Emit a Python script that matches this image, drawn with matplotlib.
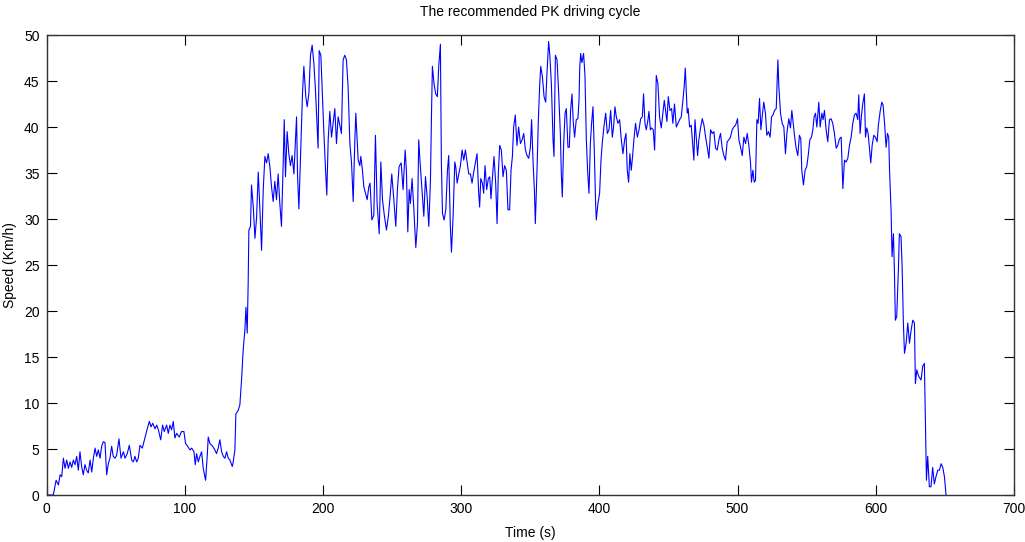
import matplotlib
matplotlib.use("Agg")
import matplotlib.pyplot as plt

# speed trace (time in s, speed in km/h)
time_s = [
    0, 4.9, 6.9, 8.6, 9.8, 11.0, 12.2, 13.4, 14.6, 15.8, 17.0, 18.2, 19.4, 20.6, 21.8, 23.0,
    24.2, 25.4, 26.6, 27.8, 29.0, 30.2, 31.5, 32.7, 33.9, 35.1, 36.3, 37.5, 38.7, 39.9, 41.1,
    42.3, 43.5, 44.7, 45.9, 47.1, 48.3, 49.5, 50.7, 52.4, 53.9, 55.6, 56.8, 58.4, 59.9, 61.6,
    62.8, 64.0, 65.2, 66.4, 67.6, 69.3, 71.2, 72.9, 74.4, 75.6, 76.8, 78.5, 79.7, 80.9, 82.6,
    84.0, 85.2, 86.9, 88.1, 89.3, 90.5, 91.7, 92.9, 94.1, 96.0, 97.7, 99.4, 100.6, 102.1, 103.8,
    105.0, 106.7, 107.6, 108.6, 109.8, 111.0, 112.2, 113.4, 115.1, 116.3, 117.0, 118.2, 120.2,
    121.8, 123.0, 124.2, 125.4, 126.7, 127.9, 129.1, 130.3, 131.5, 132.7, 134.4, 135.1, 136.3,
    137.0, 138.7, 139.9, 141.1, 142.3, 143.5, 144.3, 145.2, 145.9, 146.4, 147.6, 148.3, 149.6,
    150.8, 152.0, 153.2, 154.4, 155.6, 156.8, 158.0, 159.2, 160.4, 161.6, 162.8, 164.0, 165.2,
    166.4, 167.6, 168.8, 170.0, 171.2, 172.0, 172.9, 174.1, 175.3, 176.5, 177.7, 179.0, 180.2,
    180.9, 181.6, 182.6, 183.8, 185.2, 186.2, 187.6, 188.6, 189.8, 191.0, 192.2, 193.4, 194.6,
    195.8, 196.5, 197.3, 198.5, 199.4, 200.7, 201.9, 202.8, 203.8, 205.0, 206.2, 207.4, 208.6,
    209.8, 211.0, 212.2, 213.4, 214.6, 215.8, 217.0, 218.2, 219.5, 220.7, 221.9, 223.1, 223.8,
    224.7, 225.5, 226.7, 227.4, 228.6, 229.6, 230.8, 232.0, 233.2, 234.1, 235.4, 236.8, 238.0,
    239.2, 240.7, 241.9, 243.1, 244.5, 246.0, 247.4, 248.6, 249.8, 251.3, 252.7, 253.9, 255.1,
    256.6, 258.0, 259.5, 260.4, 261.4, 262.4, 263.3, 264.5, 265.7, 267.2, 268.4, 269.3, 270.5,
    271.8, 273.0, 274.2, 275.4, 276.6, 277.8, 278.5, 279.2, 280.4, 281.6, 282.8, 283.8, 285.0,
    285.7, 286.5, 287.7, 288.9, 290.1, 291.0, 292.2, 293.0, 294.2, 295.4, 296.1, 297.1, 298.3,
    299.5, 300.7, 301.9, 303.1, 304.3, 305.5, 306.7, 307.9, 309.1, 310.3, 311.5, 312.7, 313.4,
    314.2, 315.4, 316.3, 317.3, 318.5, 319.7, 320.7, 321.6, 322.6, 323.8, 325.0, 326.0, 326.9,
    327.9, 329.1, 330.3, 331.5, 332.7, 333.9, 335.1, 336.1, 337.1, 338.0, 339.2, 340.4, 341.6,
    342.9, 344.1, 345.3, 346.5, 347.7, 348.9, 350.1, 351.0, 352.0, 353.0, 353.7, 354.9, 355.9,
    356.8, 357.6, 358.8, 360.0, 361.2, 362.1, 363.3, 364.1, 365.3, 366.5, 367.2, 368.2, 369.4,
    370.6, 371.8, 372.5, 373.2, 374.2, 375.2, 376.1, 377.3, 378.3, 379.2, 380.2, 381.2, 382.1,
    383.3, 384.5, 385.3, 385.8, 386.5, 387.4, 388.6, 389.6, 390.6, 391.5, 392.5, 393.5, 394.4,
    395.4, 396.4, 397.3, 397.8, 399.0, 400.2, 401.2, 402.1, 403.3, 404.6, 405.8, 407.0, 408.2,
    409.4, 410.3, 411.3, 412.3, 413.5, 414.7, 415.9, 417.1, 418.3, 419.3, 420.2, 421.2, 422.1,
    423.1, 424.1, 425.0, 426.2, 427.5, 428.7, 429.9, 431.1, 432.0, 433.0, 434.0, 435.2, 435.9,
    436.9, 437.8, 439.0, 440.0, 440.7, 441.2, 442.4, 443.6, 444.8, 446.0, 447.0, 447.9, 448.9,
    449.9, 451.1, 452.3, 453.2, 454.4, 455.7, 456.9, 458.1, 459.3, 460.5, 461.4, 462.2, 462.9,
    463.6, 464.3, 465.3, 466.5, 467.7, 468.4, 469.2, 470.1, 471.1, 472.0, 473.2, 474.5, 475.7,
    476.9, 478.1, 479.3, 480.5, 481.7, 482.9, 484.1, 485.3, 486.5, 487.7, 488.9, 490.1, 491.3,
    492.5, 493.7, 494.9, 496.1, 497.3, 498.6, 500.0, 501.0, 502.2, 503.4, 504.6, 505.8, 507.0,
    508.2, 509.4, 510.1, 511.1, 512.1, 513.0, 514.0, 514.9, 515.9, 516.9, 517.8, 519.0, 520.2,
    521.2, 522.4, 523.6, 524.6, 525.6, 526.8, 528.0, 528.7, 529.2, 529.9, 531.1, 532.3, 533.5,
    534.7, 535.7, 537.1, 538.3, 539.3, 540.3, 541.2, 542.4, 543.6, 544.8, 545.8, 546.5, 547.7,
    548.9, 550.1, 551.3, 552.3, 553.5, 554.5, 555.4, 556.4, 557.4, 558.8, 559.8, 561.0, 561.9,
    562.9, 564.1, 565.3, 566.5, 567.7, 568.9, 570.1, 571.4, 572.5, 573.7, 575.0, 576.2, 577.4,
    578.6, 579.8, 581.0, 582.2, 583.4, 584.6, 585.8, 587.0, 587.7, 588.7, 589.7, 590.6, 591.8,
    592.6, 593.5, 594.5, 595.4, 596.4, 597.4, 598.6, 599.8, 601.0, 601.9, 603.2, 604.4, 605.3,
    606.5, 607.5, 608.5, 609.4, 610.0, 611.1, 611.8, 612.8, 613.5, 614.2, 615.2, 616.4, 617.1,
    618.3, 619.1, 620.0, 620.8, 622.0, 623.2, 624.4, 625.6, 626.8, 628.0, 628.7, 629.7, 631.1,
    632.8, 634.0, 635.2, 635.9, 636.7, 637.6, 638.8, 640.0, 641.2, 642.4, 643.6, 644.9, 646.1,
    647.3, 648.5, 649.7, 650.9,
]
speed_kmh = [
    0, 0, 1.6, 1.1, 2.2, 2.0, 4.0, 2.9, 3.8, 2.9, 3.6, 3.0, 3.8, 3.3, 4.2, 2.7,
    4.7, 3.1, 2.2, 3.3, 2.7, 2.4, 3.8, 2.5, 4.0, 5.1, 4.2, 4.9, 4.0, 5.3, 5.8,
    5.7, 2.2, 3.4, 4.0, 5.3, 4.2, 4.0, 4.3, 6.1, 4.0, 4.7, 4.0, 4.5, 5.4, 3.8,
    3.6, 4.2, 3.6, 4.0, 5.4, 5.1, 6.2, 7.2, 8.0, 7.4, 7.8, 7.2, 7.6, 7.1, 6.0,
    7.6, 6.9, 7.6, 6.7, 7.6, 7.1, 8.0, 6.2, 6.7, 6.3, 6.9, 6.9, 5.6, 5.3, 4.9,
    5.1, 4.7, 3.3, 4.5, 3.6, 4.2, 4.7, 2.9, 1.6, 4.3, 6.3, 5.6, 5.3,
    4.9, 4.5, 5.1, 6.0, 4.7, 4.2, 4.0, 4.7, 4.0, 3.8, 3.1, 3.6, 4.9,
    8.8, 9.2, 9.8, 12.5, 15.8, 17.9, 20.4, 17.6, 23.0, 28.8, 29.2, 33.7, 31.3,
    27.9, 30.2, 35.1, 31.0, 26.6, 33.2, 36.8, 36.1, 37.1, 35.7, 33.5, 31.9, 34.1,
    32.1, 34.9, 31.7, 29.2, 35.8, 40.8, 34.6, 39.5, 37.1, 35.8, 36.9, 34.9, 38.9,
    41.1, 34.9, 31.1, 36.8, 43.6, 46.6, 43.3, 42.2, 43.6, 47.8, 48.9, 47.0, 44.0,
    39.9, 37.7, 48.3, 47.8, 44.4, 39.3, 35.3, 32.6, 38.6, 41.7, 38.9, 40.4, 42.0,
    38.2, 41.1, 40.2, 39.3, 47.3, 47.8, 47.3, 44.4, 38.2, 36.1, 31.9, 38.6, 41.5,
    38.9, 36.4, 35.8, 36.8, 35.3, 33.5, 32.8, 32.1, 33.5, 33.9, 29.9, 30.4, 39.1,
    31.7, 28.4, 36.2, 32.1, 30.3, 28.8, 30.4, 32.4, 34.9, 32.1, 29.2, 33.2, 35.7,
    36.1, 33.2, 37.5, 35.3, 28.6, 33.2, 31.7, 34.4, 31.3, 26.9, 29.5, 38.6, 35.7,
    32.8, 30.3, 34.6, 32.4, 29.2, 34.2, 40.9, 46.6, 44.7, 43.6, 43.3, 46.6, 49.0,
    36.1, 30.6, 29.9, 31.0, 35.3, 36.9, 29.2, 26.4, 30.3, 36.2, 35.7, 33.9, 34.9,
    35.8, 37.5, 36.4, 37.5, 36.2, 34.9, 34.9, 33.9, 35.1, 36.1, 37.1, 32.8, 31.3,
    34.4, 33.9, 32.8, 35.8, 33.2, 34.4, 34.6, 32.2, 34.4, 36.8, 33.9, 29.5, 34.9,
    38.0, 37.5, 34.6, 35.8, 35.3, 31.0, 31.0, 35.3, 36.8, 40.0, 41.3, 38.0, 40.0,
    38.2, 38.6, 39.3, 37.5, 36.9, 36.6, 37.8, 40.8, 36.4, 33.2, 29.5, 35.3, 40.9,
    44.4, 46.6, 45.5, 43.3, 42.7, 45.8, 49.3, 48.0, 44.7, 38.6, 36.8, 47.8, 47.3,
    43.6, 39.3, 34.9, 32.4, 38.2, 41.5, 42.0, 37.8, 37.8, 41.8, 43.6, 40.4, 38.9,
    40.8, 40.9, 42.9, 46.4, 48.0, 47.0, 48.0, 45.6, 38.6, 35.3, 32.8, 38.2, 40.4,
    42.2, 37.1, 31.7, 29.9, 31.7, 32.8, 36.4, 38.2, 40.0, 41.5, 39.3, 39.7, 41.8,
    38.9, 40.0, 42.2, 41.1, 40.4, 40.8, 38.6, 37.1, 38.6, 39.3, 35.3, 34.0, 37.1,
    35.3, 36.9, 38.6, 40.4, 38.9, 39.7, 40.9, 41.1, 43.6, 40.4, 39.7, 40.8, 41.7,
    39.7, 39.9, 39.7, 37.5, 41.5, 45.6, 44.7, 41.1, 39.9, 41.5, 42.9, 41.8, 40.6,
    43.3, 41.8, 42.0, 40.4, 42.5, 40.0, 40.4, 40.8, 41.1, 42.9, 44.4, 46.4, 44.0,
    41.5, 42.0, 40.0, 40.2, 37.8, 36.4, 40.8, 38.9, 36.9, 38.6, 39.9, 40.9, 40.2,
    38.9, 37.8, 36.6, 39.7, 39.3, 39.5, 37.7, 37.5, 38.6, 39.3, 37.7, 36.9, 36.4,
    38.4, 38.6, 38.9, 39.7, 40.0, 40.2, 40.9, 38.6, 37.8, 36.9, 38.9, 38.2, 39.3,
    38.0, 36.1, 34.0, 35.3, 34.0, 34.2, 40.8, 40.4, 43.1, 39.7, 41.1, 42.7, 41.5,
    39.1, 39.5, 38.9, 41.1, 41.3, 41.8, 42.0, 45.1, 47.3, 44.4, 41.5, 40.4, 40.0,
    37.1, 39.3, 40.9, 39.9, 41.8, 40.4, 39.1, 37.7, 36.9, 39.1, 38.7, 35.3, 33.7,
    35.3, 35.7, 37.1, 38.6, 38.9, 39.7, 41.1, 41.5, 40.0, 42.7, 40.0, 41.5, 40.8,
    41.8, 39.7, 38.4, 40.8, 40.9, 40.4, 39.3, 37.7, 38.0, 38.7, 38.9, 33.3, 36.4,
    36.2, 36.6, 38.0, 38.9, 40.4, 41.3, 41.5, 40.8, 43.5, 39.3, 41.3, 42.5, 43.6,
    38.9, 39.9, 39.3, 37.8, 36.1, 38.0, 39.1, 38.9, 38.4, 40.2, 41.7, 42.7, 42.4,
    40.2, 37.8, 39.3, 38.9, 35.3, 30.9, 25.9, 28.4, 24.5, 19.0, 19.4, 24.5, 28.4,
    28.1, 24.8, 18.7, 15.4, 16.5, 18.7, 16.5, 17.9, 19.0, 18.7, 12.1, 13.6, 12.9,
    12.5, 14.0, 14.3, 8.2, 1.6, 4.2, 0.9, 0.9, 3.0, 1.2, 2.0, 2.7, 2.7,
    3.4, 3.0, 2.0, 0,
]

x_ticks = [0, 100, 200, 300, 400, 500, 600, 700]
y_ticks = [0, 5, 10, 15, 20, 25, 30, 35, 40, 45, 50]
plt.rcParams["font.family"] = ["Liberation Sans", "DejaVu Sans"]

fig = plt.figure(figsize=(10.25, 5.42), dpi=100)
ax = fig.add_axes([0.0454, 0.0867, 0.9438, 0.8487])
ax.plot(time_s, speed_kmh, color="#0000ff", lw=0.8)

ax.set_xlim(0, 700)
ax.set_ylim(0, 50)
ax.set_xticks(x_ticks)
ax.set_yticks(y_ticks)
ax.tick_params(direction="in", length=7, width=0.8, top=True, right=True,
               labelsize=10, pad=5)
for s in ax.spines.values():
    s.set_linewidth(1.0)
    s.set_color("#333333")

ax.set_title("The recommended PK driving cycle", fontsize=10, pad=14)
ax.set_xlabel("Time (s)", fontsize=10, labelpad=7)
ax.set_ylabel("Speed (Km/h)", fontsize=10)
ax.yaxis.set_label_coords(-0.031, 0.5)

fig.savefig("out.png", dpi=100)
